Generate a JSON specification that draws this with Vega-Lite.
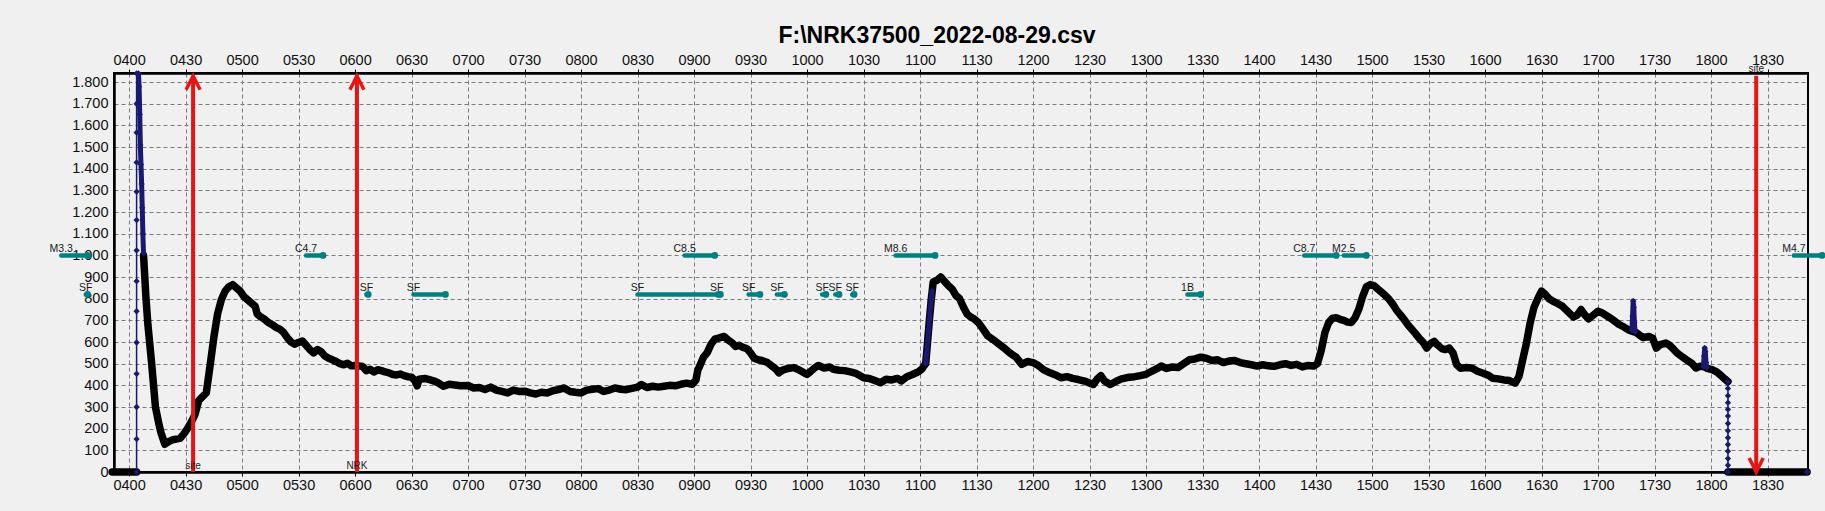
{
  "$schema": "https://vega.github.io/schema/vega-lite/v6.json",
  "description": "F:\\NRK37500_2022-08-29.csv signal trace with flare markers; m = minutes after midnight",
  "width": 1694,
  "height": 399,
  "autosize": "none",
  "padding": {"left": 114, "top": 73, "right": 17, "bottom": 39},
  "background": "#f0f0f0",
  "title": {
    "text": "F:\\NRK37500_2022-08-29.csv",
    "font": "Liberation Sans",
    "fontSize": 23,
    "fontWeight": "bold",
    "color": "#000000",
    "anchor": "middle",
    "frame": "group",
    "dx": -24,
    "offset": 4
  },
  "config": {
    "view": {"stroke": "#000000", "strokeWidth": 2},
    "axis": {
      "labelFont": "Liberation Sans",
      "labelFontSize": 14.5,
      "labelColor": "#111111",
      "domainColor": "#000000",
      "domainWidth": 2.5,
      "tickColor": "#000000",
      "gridColor": "#7a7a7a",
      "gridDash": [4, 3],
      "gridWidth": 1
    },
    "text": {"font": "Liberation Sans"}
  },
  "resolve": {"axis": {"x": "independent", "y": "independent"}},
  "layer": [
    {
      "data": {
        "values": [
          {"m": 231, "v": 0, "s": "a"}, {"m": 244, "v": 0, "s": "a"},
          {"m": 247.7, "v": 1000, "s": "b"}, {"m": 249, "v": 800, "s": "b"}, {"m": 250, "v": 680, "s": "b"},
          {"m": 252, "v": 500, "s": "b"}, {"m": 254, "v": 300, "s": "b"}, {"m": 256, "v": 215, "s": "b"},
          {"m": 257, "v": 180, "s": "b"}, {"m": 259, "v": 128, "s": "b"}, {"m": 261, "v": 140, "s": "b"},
          {"m": 263, "v": 148, "s": "b"}, {"m": 265, "v": 152, "s": "b"}, {"m": 267, "v": 155, "s": "b"},
          {"m": 269, "v": 175, "s": "b"}, {"m": 271, "v": 200, "s": "b"}, {"m": 273, "v": 230, "s": "b"},
          {"m": 275, "v": 265, "s": "b"}, {"m": 277, "v": 330, "s": "b"}, {"m": 279, "v": 348, "s": "b"},
          {"m": 281, "v": 365, "s": "b"}, {"m": 283, "v": 490, "s": "b"}, {"m": 285, "v": 620, "s": "b"},
          {"m": 287, "v": 730, "s": "b"}, {"m": 289, "v": 795, "s": "b"}, {"m": 291, "v": 835, "s": "b"},
          {"m": 293, "v": 855, "s": "b"}, {"m": 295, "v": 865, "s": "b"}, {"m": 297, "v": 850, "s": "b"},
          {"m": 299, "v": 835, "s": "b"}, {"m": 301, "v": 810, "s": "b"}, {"m": 303, "v": 795, "s": "b"},
          {"m": 305, "v": 780, "s": "b"}, {"m": 307, "v": 765, "s": "b"}, {"m": 308, "v": 730, "s": "b"},
          {"m": 310, "v": 715, "s": "b"}, {"m": 312, "v": 705, "s": "b"}, {"m": 314, "v": 690, "s": "b"},
          {"m": 316, "v": 680, "s": "b"}, {"m": 318, "v": 668, "s": "b"}, {"m": 320, "v": 660, "s": "b"},
          {"m": 322, "v": 645, "s": "b"}, {"m": 324, "v": 620, "s": "b"}, {"m": 326, "v": 600, "s": "b"},
          {"m": 328, "v": 590, "s": "b"}, {"m": 330, "v": 598, "s": "b"}, {"m": 332, "v": 605, "s": "b"},
          {"m": 334, "v": 585, "s": "b"}, {"m": 336, "v": 565, "s": "b"}, {"m": 338, "v": 550, "s": "b"},
          {"m": 340, "v": 565, "s": "b"}, {"m": 342, "v": 555, "s": "b"}, {"m": 344, "v": 535, "s": "b"},
          {"m": 346, "v": 525, "s": "b"}, {"m": 348, "v": 518, "s": "b"}, {"m": 350, "v": 510, "s": "b"},
          {"m": 352, "v": 500, "s": "b"}, {"m": 354, "v": 495, "s": "b"}, {"m": 356, "v": 502, "s": "b"},
          {"m": 358, "v": 490, "s": "b"}, {"m": 360, "v": 492, "s": "b"}, {"m": 362, "v": 490, "s": "b"},
          {"m": 364, "v": 487, "s": "b"}, {"m": 366, "v": 468, "s": "b"}, {"m": 368, "v": 474, "s": "b"},
          {"m": 370, "v": 462, "s": "b"}, {"m": 372, "v": 472, "s": "b"}, {"m": 374, "v": 468, "s": "b"},
          {"m": 376, "v": 462, "s": "b"}, {"m": 378, "v": 458, "s": "b"}, {"m": 380, "v": 450, "s": "b"},
          {"m": 382, "v": 448, "s": "b"}, {"m": 384, "v": 452, "s": "b"}, {"m": 386, "v": 445, "s": "b"},
          {"m": 388, "v": 440, "s": "b"}, {"m": 390, "v": 438, "s": "b"}, {"m": 392, "v": 420, "s": "b"},
          {"m": 393, "v": 398, "s": "b"}, {"m": 394, "v": 428, "s": "b"}, {"m": 397, "v": 432, "s": "b"},
          {"m": 400, "v": 425, "s": "b"}, {"m": 402, "v": 420, "s": "b"}, {"m": 404, "v": 412, "s": "b"},
          {"m": 407, "v": 396, "s": "b"}, {"m": 410, "v": 405, "s": "b"}, {"m": 413, "v": 402, "s": "b"},
          {"m": 416, "v": 398, "s": "b"}, {"m": 420, "v": 399, "s": "b"}, {"m": 423, "v": 388, "s": "b"},
          {"m": 426, "v": 390, "s": "b"}, {"m": 429, "v": 381, "s": "b"}, {"m": 432, "v": 392, "s": "b"},
          {"m": 435, "v": 378, "s": "b"}, {"m": 438, "v": 372, "s": "b"}, {"m": 441, "v": 365, "s": "b"},
          {"m": 444, "v": 378, "s": "b"}, {"m": 447, "v": 372, "s": "b"}, {"m": 450, "v": 373, "s": "b"},
          {"m": 453, "v": 365, "s": "b"}, {"m": 456, "v": 360, "s": "b"}, {"m": 459, "v": 368, "s": "b"},
          {"m": 462, "v": 365, "s": "b"}, {"m": 465, "v": 375, "s": "b"}, {"m": 468, "v": 380, "s": "b"},
          {"m": 471, "v": 388, "s": "b"}, {"m": 474, "v": 372, "s": "b"}, {"m": 477, "v": 368, "s": "b"},
          {"m": 480, "v": 365, "s": "b"}, {"m": 483, "v": 378, "s": "b"}, {"m": 486, "v": 382, "s": "b"},
          {"m": 489, "v": 385, "s": "b"}, {"m": 492, "v": 372, "s": "b"}, {"m": 495, "v": 378, "s": "b"},
          {"m": 498, "v": 388, "s": "b"}, {"m": 501, "v": 382, "s": "b"}, {"m": 504, "v": 380, "s": "b"},
          {"m": 507, "v": 386, "s": "b"}, {"m": 510, "v": 392, "s": "b"}, {"m": 512, "v": 404, "s": "b"},
          {"m": 515, "v": 390, "s": "b"}, {"m": 518, "v": 396, "s": "b"}, {"m": 521, "v": 392, "s": "b"},
          {"m": 524, "v": 396, "s": "b"}, {"m": 527, "v": 400, "s": "b"}, {"m": 530, "v": 398, "s": "b"},
          {"m": 533, "v": 405, "s": "b"}, {"m": 536, "v": 410, "s": "b"}, {"m": 539, "v": 405, "s": "b"},
          {"m": 541, "v": 425, "s": "b"}, {"m": 542, "v": 470, "s": "b"}, {"m": 543, "v": 489, "s": "b"},
          {"m": 545, "v": 530, "s": "b"}, {"m": 547, "v": 551, "s": "b"}, {"m": 549, "v": 590, "s": "b"},
          {"m": 551, "v": 613, "s": "b"}, {"m": 553, "v": 618, "s": "b"}, {"m": 556, "v": 626, "s": "b"},
          {"m": 558, "v": 610, "s": "b"}, {"m": 560, "v": 598, "s": "b"}, {"m": 562, "v": 580, "s": "b"},
          {"m": 564, "v": 585, "s": "b"}, {"m": 566, "v": 575, "s": "b"}, {"m": 568, "v": 570, "s": "b"},
          {"m": 570, "v": 550, "s": "b"}, {"m": 572, "v": 525, "s": "b"}, {"m": 574, "v": 518, "s": "b"},
          {"m": 576, "v": 515, "s": "b"}, {"m": 579, "v": 505, "s": "b"}, {"m": 582, "v": 485, "s": "b"},
          {"m": 584, "v": 470, "s": "b"}, {"m": 585, "v": 458, "s": "b"}, {"m": 587, "v": 470, "s": "b"},
          {"m": 590, "v": 478, "s": "b"}, {"m": 593, "v": 482, "s": "b"}, {"m": 596, "v": 470, "s": "b"},
          {"m": 598, "v": 460, "s": "b"}, {"m": 600, "v": 451, "s": "b"}, {"m": 602, "v": 465, "s": "b"},
          {"m": 604, "v": 480, "s": "b"}, {"m": 606, "v": 492, "s": "b"}, {"m": 609, "v": 480, "s": "b"},
          {"m": 612, "v": 485, "s": "b"}, {"m": 614, "v": 474, "s": "b"}, {"m": 617, "v": 470, "s": "b"},
          {"m": 620, "v": 468, "s": "b"}, {"m": 623, "v": 462, "s": "b"}, {"m": 626, "v": 455, "s": "b"},
          {"m": 628, "v": 445, "s": "b"}, {"m": 630, "v": 435, "s": "b"}, {"m": 633, "v": 432, "s": "b"},
          {"m": 636, "v": 422, "s": "b"}, {"m": 639, "v": 412, "s": "b"}, {"m": 642, "v": 428, "s": "b"},
          {"m": 645, "v": 425, "s": "b"}, {"m": 648, "v": 432, "s": "b"}, {"m": 650, "v": 420, "s": "b"},
          {"m": 653, "v": 440, "s": "b"}, {"m": 656, "v": 450, "s": "b"}, {"m": 659, "v": 462, "s": "b"},
          {"m": 661, "v": 475, "s": "b"}, {"m": 662, "v": 489, "s": "b"}, {"m": 663, "v": 500, "s": "b"},
          {"m": 664, "v": 600, "s": "b"}, {"m": 665, "v": 706, "s": "b"}, {"m": 666, "v": 800, "s": "b"},
          {"m": 667, "v": 877, "s": "b"}, {"m": 669, "v": 885, "s": "b"}, {"m": 671, "v": 900, "s": "b"},
          {"m": 673, "v": 880, "s": "b"}, {"m": 675, "v": 861, "s": "b"}, {"m": 677, "v": 845, "s": "b"},
          {"m": 679, "v": 815, "s": "b"}, {"m": 681, "v": 800, "s": "b"}, {"m": 683, "v": 762, "s": "b"},
          {"m": 685, "v": 729, "s": "b"}, {"m": 687, "v": 715, "s": "b"}, {"m": 689, "v": 705, "s": "b"},
          {"m": 691, "v": 690, "s": "b"}, {"m": 693, "v": 665, "s": "b"}, {"m": 696, "v": 628, "s": "b"},
          {"m": 699, "v": 610, "s": "b"}, {"m": 702, "v": 590, "s": "b"}, {"m": 705, "v": 570, "s": "b"},
          {"m": 708, "v": 548, "s": "b"}, {"m": 711, "v": 530, "s": "b"}, {"m": 714, "v": 497, "s": "b"},
          {"m": 717, "v": 510, "s": "b"}, {"m": 720, "v": 505, "s": "b"}, {"m": 723, "v": 490, "s": "b"},
          {"m": 726, "v": 470, "s": "b"}, {"m": 729, "v": 458, "s": "b"}, {"m": 732, "v": 448, "s": "b"},
          {"m": 735, "v": 435, "s": "b"}, {"m": 738, "v": 440, "s": "b"}, {"m": 741, "v": 432, "s": "b"},
          {"m": 744, "v": 427, "s": "b"}, {"m": 748, "v": 418, "s": "b"}, {"m": 752, "v": 404, "s": "b"},
          {"m": 754, "v": 428, "s": "b"}, {"m": 756, "v": 445, "s": "b"}, {"m": 758, "v": 420, "s": "b"},
          {"m": 761, "v": 404, "s": "b"}, {"m": 764, "v": 418, "s": "b"}, {"m": 767, "v": 430, "s": "b"},
          {"m": 770, "v": 436, "s": "b"}, {"m": 774, "v": 440, "s": "b"}, {"m": 777, "v": 445, "s": "b"},
          {"m": 780, "v": 451, "s": "b"}, {"m": 783, "v": 465, "s": "b"}, {"m": 786, "v": 478, "s": "b"},
          {"m": 788, "v": 489, "s": "b"}, {"m": 791, "v": 478, "s": "b"}, {"m": 794, "v": 485, "s": "b"},
          {"m": 797, "v": 482, "s": "b"}, {"m": 800, "v": 500, "s": "b"}, {"m": 803, "v": 518, "s": "b"},
          {"m": 806, "v": 522, "s": "b"}, {"m": 809, "v": 530, "s": "b"}, {"m": 812, "v": 525, "s": "b"},
          {"m": 815, "v": 515, "s": "b"}, {"m": 818, "v": 518, "s": "b"}, {"m": 821, "v": 505, "s": "b"},
          {"m": 824, "v": 512, "s": "b"}, {"m": 827, "v": 515, "s": "b"}, {"m": 830, "v": 505, "s": "b"},
          {"m": 833, "v": 500, "s": "b"}, {"m": 836, "v": 495, "s": "b"}, {"m": 839, "v": 489, "s": "b"},
          {"m": 842, "v": 495, "s": "b"}, {"m": 845, "v": 490, "s": "b"}, {"m": 848, "v": 488, "s": "b"},
          {"m": 851, "v": 495, "s": "b"}, {"m": 854, "v": 500, "s": "b"}, {"m": 857, "v": 492, "s": "b"},
          {"m": 860, "v": 497, "s": "b"}, {"m": 863, "v": 485, "s": "b"}, {"m": 866, "v": 492, "s": "b"},
          {"m": 869, "v": 489, "s": "b"}, {"m": 871, "v": 500, "s": "b"}, {"m": 873, "v": 560, "s": "b"},
          {"m": 875, "v": 644, "s": "b"}, {"m": 877, "v": 690, "s": "b"}, {"m": 879, "v": 710, "s": "b"},
          {"m": 881, "v": 712, "s": "b"}, {"m": 883, "v": 705, "s": "b"}, {"m": 885, "v": 700, "s": "b"},
          {"m": 887, "v": 692, "s": "b"}, {"m": 889, "v": 690, "s": "b"}, {"m": 891, "v": 712, "s": "b"},
          {"m": 893, "v": 752, "s": "b"}, {"m": 895, "v": 810, "s": "b"}, {"m": 897, "v": 855, "s": "b"},
          {"m": 899, "v": 865, "s": "b"}, {"m": 901, "v": 860, "s": "b"}, {"m": 903, "v": 845, "s": "b"},
          {"m": 905, "v": 830, "s": "b"}, {"m": 907, "v": 815, "s": "b"}, {"m": 909, "v": 798, "s": "b"},
          {"m": 911, "v": 775, "s": "b"}, {"m": 913, "v": 748, "s": "b"}, {"m": 915, "v": 726, "s": "b"},
          {"m": 917, "v": 705, "s": "b"}, {"m": 919, "v": 680, "s": "b"}, {"m": 921, "v": 660, "s": "b"},
          {"m": 923, "v": 640, "s": "b"}, {"m": 925, "v": 618, "s": "b"}, {"m": 927, "v": 600, "s": "b"},
          {"m": 929, "v": 572, "s": "b"}, {"m": 931, "v": 592, "s": "b"}, {"m": 933, "v": 603, "s": "b"},
          {"m": 935, "v": 585, "s": "b"}, {"m": 937, "v": 570, "s": "b"}, {"m": 939, "v": 565, "s": "b"},
          {"m": 941, "v": 572, "s": "b"}, {"m": 943, "v": 550, "s": "b"}, {"m": 945, "v": 495, "s": "b"},
          {"m": 947, "v": 479, "s": "b"}, {"m": 950, "v": 482, "s": "b"}, {"m": 953, "v": 480, "s": "b"},
          {"m": 956, "v": 465, "s": "b"}, {"m": 959, "v": 456, "s": "b"}, {"m": 962, "v": 446, "s": "b"},
          {"m": 964, "v": 433, "s": "b"}, {"m": 967, "v": 430, "s": "b"}, {"m": 970, "v": 425, "s": "b"},
          {"m": 973, "v": 422, "s": "b"}, {"m": 976, "v": 410, "s": "b"}, {"m": 978, "v": 440, "s": "b"},
          {"m": 980, "v": 518, "s": "b"}, {"m": 982, "v": 595, "s": "b"}, {"m": 984, "v": 690, "s": "b"},
          {"m": 986, "v": 760, "s": "b"}, {"m": 988, "v": 800, "s": "b"}, {"m": 990, "v": 835, "s": "b"},
          {"m": 992, "v": 820, "s": "b"}, {"m": 994, "v": 800, "s": "b"}, {"m": 996, "v": 789, "s": "b"},
          {"m": 998, "v": 780, "s": "b"}, {"m": 1001, "v": 766, "s": "b"}, {"m": 1004, "v": 740, "s": "b"},
          {"m": 1007, "v": 715, "s": "b"}, {"m": 1009, "v": 725, "s": "b"}, {"m": 1011, "v": 750, "s": "b"},
          {"m": 1013, "v": 725, "s": "b"}, {"m": 1015, "v": 707, "s": "b"}, {"m": 1018, "v": 728, "s": "b"},
          {"m": 1020, "v": 742, "s": "b"}, {"m": 1022, "v": 735, "s": "b"}, {"m": 1025, "v": 719, "s": "b"},
          {"m": 1028, "v": 702, "s": "b"}, {"m": 1031, "v": 682, "s": "b"}, {"m": 1034, "v": 668, "s": "b"},
          {"m": 1036, "v": 657, "s": "b"}, {"m": 1038, "v": 650, "s": "b"}, {"m": 1040, "v": 645, "s": "b"},
          {"m": 1042, "v": 632, "s": "b"}, {"m": 1044, "v": 620, "s": "b"}, {"m": 1047, "v": 626, "s": "b"},
          {"m": 1049, "v": 618, "s": "b"}, {"m": 1051, "v": 572, "s": "b"}, {"m": 1053, "v": 588, "s": "b"},
          {"m": 1056, "v": 595, "s": "b"}, {"m": 1058, "v": 585, "s": "b"}, {"m": 1060, "v": 568, "s": "b"},
          {"m": 1062, "v": 549, "s": "b"}, {"m": 1065, "v": 530, "s": "b"}, {"m": 1067, "v": 518, "s": "b"},
          {"m": 1070, "v": 500, "s": "b"}, {"m": 1072, "v": 480, "s": "b"}, {"m": 1074, "v": 488, "s": "b"},
          {"m": 1076, "v": 487, "s": "b"}, {"m": 1078, "v": 478, "s": "b"}, {"m": 1081, "v": 471, "s": "b"},
          {"m": 1083, "v": 462, "s": "b"}, {"m": 1085, "v": 448, "s": "b"}, {"m": 1087, "v": 432, "s": "b"},
          {"m": 1089, "v": 417, "s": "b"},
          {"m": 1089, "v": 0, "s": "c"}, {"m": 1131, "v": 0, "s": "c"}
        ]
      },
      "mark": {"type": "line", "color": "#000000", "strokeWidth": 7.5, "strokeJoin": "round", "strokeCap": "round"},
      "encoding": {
        "x": {
          "field": "m",
          "type": "quantitative",
          "scale": {"domain": [232, 1131.5], "nice": false, "zero": false},
          "axis": {
            "orient": "bottom",
            "title": null,
            "values": [240, 270, 300, 330, 360, 390, 420, 450, 480, 510, 540, 570, 600, 630, 660, 690, 720, 750, 780, 810, 840, 870, 900, 930, 960, 990, 1020, 1050, 1080, 1110],
            "labelExpr": "(datum.value < 600 ? '0' : '') + floor(datum.value / 60) + (datum.value % 60 == 0 ? '00' : '30')",
            "grid": true,
            "tickSize": 4,
            "labelPadding": 2,
            "labelOverlap": false,
            "labelFlush": false
          }
        },
        "y": {
          "field": "v",
          "type": "quantitative",
          "scale": {"domain": [0, 1842], "nice": false, "zero": true},
          "axis": {
            "title": null,
            "values": [0, 100, 200, 300, 400, 500, 600, 700, 800, 900, 1000, 1100, 1200, 1300, 1400, 1500, 1600, 1700, 1800],
            "labelExpr": "datum.value >= 1000 ? floor(datum.value / 1000) + '.' + (datum.value % 1000 == 0 ? '000' : '' + (datum.value % 1000)) : '' + datum.value",
            "grid": true,
            "tickSize": 0,
            "labelPadding": 6
          }
        },
        "detail": {"field": "s"}
      }
    },
    {
      "data": {
        "values": [
          {"m": 244, "v": 0, "s": "r1"}, {"m": 244, "v": 152, "s": "r1"}, {"m": 244, "v": 300, "s": "r1"},
          {"m": 244, "v": 453, "s": "r1"}, {"m": 244, "v": 598, "s": "r1"}, {"m": 244, "v": 742, "s": "r1"},
          {"m": 244, "v": 881, "s": "r1"}, {"m": 244, "v": 1023, "s": "r1"}, {"m": 244, "v": 1163, "s": "r1"},
          {"m": 244, "v": 1294, "s": "r1"}, {"m": 244, "v": 1429, "s": "r1"}, {"m": 244, "v": 1567, "s": "r1"},
          {"m": 244, "v": 1700, "s": "r1"}, {"m": 244, "v": 1840, "s": "r1"},
          {"m": 1089, "v": 417, "s": "r2"}, {"m": 1089, "v": 386, "s": "r2"}, {"m": 1089, "v": 352, "s": "r2"},
          {"m": 1089, "v": 320, "s": "r2"}, {"m": 1089, "v": 289, "s": "r2"}, {"m": 1089, "v": 258, "s": "r2"},
          {"m": 1089, "v": 224, "s": "r2"}, {"m": 1089, "v": 190, "s": "r2"}, {"m": 1089, "v": 158, "s": "r2"},
          {"m": 1089, "v": 127, "s": "r2"}, {"m": 1089, "v": 96, "s": "r2"}, {"m": 1089, "v": 62, "s": "r2"},
          {"m": 1089, "v": 31, "s": "r2"}, {"m": 1089, "v": 0, "s": "r2"},
          {"m": 1131, "v": 0, "s": "r3"}
        ]
      },
      "encoding": {
        "x": {"field": "m", "type": "quantitative", "axis": null},
        "y": {"field": "v", "type": "quantitative", "axis": null},
        "detail": {"field": "s"}
      },
      "layer": [
        {"mark": {"type": "line", "color": "#191970", "strokeWidth": 1.5}},
        {"mark": {"type": "point", "shape": "diamond", "filled": true, "color": "#191970", "size": 40, "opacity": 1}}
      ]
    },
    {
      "data": {
        "values": [
          {"m": 245, "v": 1840, "s": "d1"}, {"m": 245.33, "v": 1780, "s": "d1"}, {"m": 245.67, "v": 1650, "s": "d1"},
          {"m": 246, "v": 1510, "s": "d1"}, {"m": 246.33, "v": 1420, "s": "d1"}, {"m": 246.67, "v": 1330, "s": "d1"},
          {"m": 247, "v": 1220, "s": "d1"}, {"m": 247.33, "v": 1100, "s": "d1"}, {"m": 247.67, "v": 1010, "s": "d1"},
          {"m": 663, "v": 500, "s": "d2"}, {"m": 663.5, "v": 550, "s": "d2"}, {"m": 664, "v": 600, "s": "d2"},
          {"m": 664.5, "v": 650, "s": "d2"}, {"m": 665, "v": 706, "s": "d2"}, {"m": 665.5, "v": 760, "s": "d2"},
          {"m": 666, "v": 800, "s": "d2"}, {"m": 666.33, "v": 835, "s": "d2"},
          {"m": 1038, "v": 655, "s": "d3"}, {"m": 1038.33, "v": 720, "s": "d3"}, {"m": 1038.67, "v": 789, "s": "d3"},
          {"m": 1039, "v": 760, "s": "d3"}, {"m": 1039.33, "v": 690, "s": "d3"}, {"m": 1039.67, "v": 648, "s": "d3"},
          {"m": 1076, "v": 487, "s": "d4"}, {"m": 1076.33, "v": 535, "s": "d4"}, {"m": 1076.67, "v": 572, "s": "d4"},
          {"m": 1077, "v": 555, "s": "d4"}, {"m": 1077.33, "v": 505, "s": "d4"}, {"m": 1077.67, "v": 482, "s": "d4"}
        ]
      },
      "encoding": {
        "x": {"field": "m", "type": "quantitative", "axis": null},
        "y": {"field": "v", "type": "quantitative", "axis": null},
        "detail": {"field": "s"}
      },
      "layer": [
        {"mark": {"type": "line", "color": "#191970", "strokeWidth": 5, "strokeJoin": "round"}},
        {"mark": {"type": "point", "shape": "diamond", "filled": true, "color": "#191970", "size": 40, "opacity": 1}}
      ]
    },
    {
      "data": {
        "values": [
          {"m": 204, "m2": 218, "lvl": 1000, "lab": "M3.3"},
          {"m": 334, "m2": 343, "lvl": 1000, "lab": "C4.7"},
          {"m": 535, "m2": 551, "lvl": 1000, "lab": "C8.5"},
          {"m": 647, "m2": 668, "lvl": 1000, "lab": "M8.6"},
          {"m": 864, "m2": 881, "lvl": 1000, "lab": "C8.7"},
          {"m": 885, "m2": 897, "lvl": 1000, "lab": "M2.5"},
          {"m": 1124, "m2": 1139, "lvl": 1000, "lab": "M4.7"},
          {"m": 217, "m2": 218, "lvl": 820, "lab": "SF"},
          {"m": 366, "m2": 367, "lvl": 820, "lab": "SF"},
          {"m": 391, "m2": 408, "lvl": 820, "lab": "SF"},
          {"m": 510, "m2": 553, "lvl": 820, "lab": "SF"},
          {"m": 552, "m2": 554, "lvl": 820, "lab": "SF"},
          {"m": 569, "m2": 575, "lvl": 820, "lab": "SF"},
          {"m": 584, "m2": 588, "lvl": 820, "lab": "SF"},
          {"m": 608, "m2": 610, "lvl": 820, "lab": "SF"},
          {"m": 615, "m2": 617, "lvl": 820, "lab": "SF"},
          {"m": 624, "m2": 625, "lvl": 820, "lab": "SF"},
          {"m": 802, "m2": 809, "lvl": 820, "lab": "1B"}
        ]
      },
      "layer": [
        {
          "mark": {"type": "rule", "color": "#008080", "strokeWidth": 4.5, "strokeCap": "round"},
          "encoding": {
            "x": {"field": "m", "type": "quantitative", "axis": null},
            "x2": {"field": "m2"},
            "y": {"field": "lvl", "type": "quantitative", "axis": null}
          }
        },
        {
          "mark": {"type": "point", "shape": "circle", "filled": true, "color": "#008080", "size": 45, "opacity": 1},
          "encoding": {
            "x": {"field": "m2", "type": "quantitative", "axis": null},
            "y": {"field": "lvl", "type": "quantitative", "axis": null}
          }
        },
        {
          "mark": {"type": "text", "fontSize": 10.5, "color": "#1a1a1a", "align": "center", "baseline": "alphabetic", "dy": -3},
          "encoding": {
            "x": {"field": "m", "type": "quantitative", "axis": null},
            "y": {"field": "lvl", "type": "quantitative", "axis": null},
            "text": {"field": "lab"}
          }
        }
      ]
    },
    {
      "data": {"values": [{"m": 274}, {"m": 361}, {"m": 1104}]},
      "mark": {"type": "rule", "color": "#e81414", "strokeWidth": 4},
      "encoding": {
        "x": {
          "field": "m",
          "type": "quantitative",
          "axis": {
            "orient": "top",
            "title": null,
            "values": [240, 270, 300, 330, 360, 390, 420, 450, 480, 510, 540, 570, 600, 630, 660, 690, 720, 750, 780, 810, 840, 870, 900, 930, 960, 990, 1020, 1050, 1080, 1110],
            "labelExpr": "(datum.value < 600 ? '0' : '') + floor(datum.value / 60) + (datum.value % 60 == 0 ? '00' : '30')",
            "grid": false,
            "tickSize": 4,
            "labelPadding": 2,
            "labelOverlap": false,
            "labelFlush": false
          }
        },
        "y": {"datum": 0, "type": "quantitative", "axis": null},
        "y2": {"datum": 1829}
      }
    },
    {
      "data": {"values": [{"m": 274}, {"m": 361}]},
      "mark": {"type": "point", "shape": "M-0.5,1L0,0L0.5,1", "filled": false, "color": "#e81414", "strokeWidth": 3.5, "size": 784, "opacity": 1},
      "encoding": {
        "x": {"field": "m", "type": "quantitative", "axis": null},
        "y": {"datum": 1829, "type": "quantitative", "axis": null}
      }
    },
    {
      "data": {"values": [{"m": 1104}]},
      "mark": {"type": "point", "shape": "M-0.5,-1L0,0L0.5,-1", "filled": false, "color": "#e81414", "strokeWidth": 3.5, "size": 784, "opacity": 1},
      "encoding": {
        "x": {"field": "m", "type": "quantitative", "axis": null},
        "y": {"datum": 0, "type": "quantitative", "axis": null}
      }
    },
    {
      "data": {"values": [{"m": 274, "lab": "site"}, {"m": 361, "lab": "NRK"}]},
      "mark": {"type": "text", "fontSize": 10, "color": "#222222", "align": "center", "baseline": "alphabetic", "dy": -3},
      "encoding": {
        "x": {"field": "m", "type": "quantitative", "axis": null},
        "y": {"datum": 0, "type": "quantitative", "axis": null},
        "text": {"field": "lab"}
      }
    },
    {
      "data": {"values": [{"m": 1104, "lab": "site"}]},
      "mark": {"type": "text", "fontSize": 10, "color": "#222222", "align": "center", "baseline": "alphabetic", "dy": -1},
      "encoding": {
        "x": {"field": "m", "type": "quantitative", "axis": null},
        "y": {"datum": 1842, "type": "quantitative", "axis": null},
        "text": {"field": "lab"}
      }
    }
  ]
}
